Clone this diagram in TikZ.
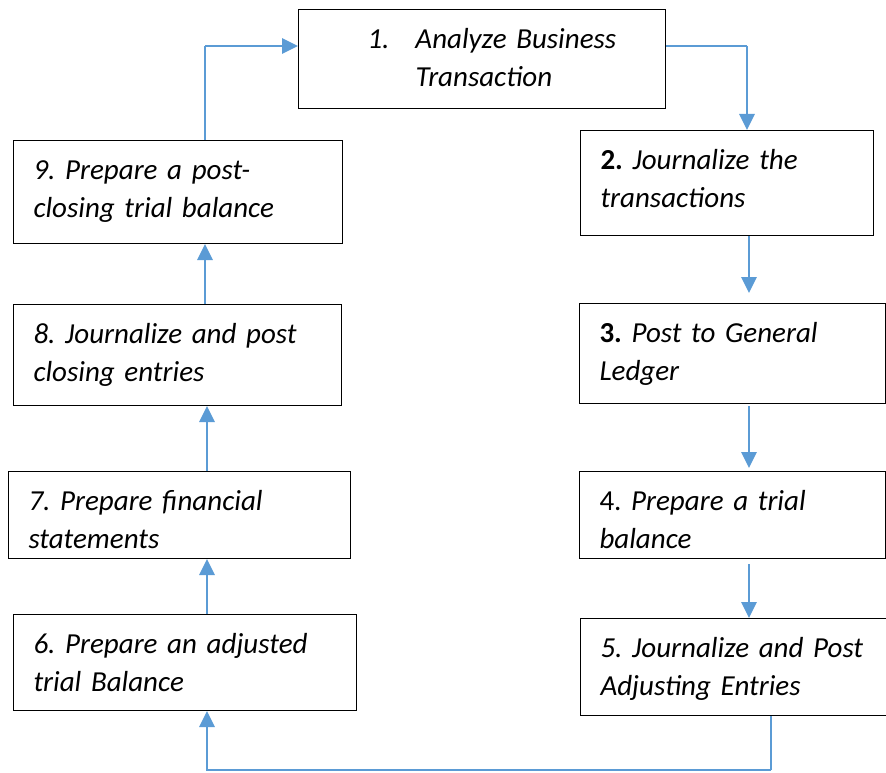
\documentclass[tikz,border=0pt]{standalone}
\usepackage{fontspec}
\setmainfont{Carlito}
\usepackage{tikz}
\usetikzlibrary{arrows.meta, positioning, calc}
\usepackage{xcolor}
\definecolor{linkblue}{HTML}{5B9BD5}
\frenchspacing

\begin{document}
\begin{tikzpicture}[
  x=1pt, y=-1pt,
  stage/.style={draw, line width=1pt, anchor=north west, align=left,
                inner xsep=20pt, inner ysep=0pt, text height=39pt,
                font=\fontsize{29}{38}\selectfont\itshape},
  link/.style={draw=linkblue, line width=2.8pt,
               -{Triangle[width=15pt,length=16pt]}},
  thinlink/.style={draw=linkblue, line width=1.3pt}
]
  \useasboundingbox (0,0) rectangle (886,773);

  % right column
  \node[stage, text width=327pt, text depth=60pt] (s1) at (298,9)
    {\hspace*{49pt}\makebox[48pt][l]{1.}Analyze Business\\
     \hspace*{97pt}Transaction};
  \node[stage, text width=253pt, text depth=66pt] (s2) at (580,130)
    {\textbf{\upshape 2.} Journalize the\\transactions};
  \node[stage, text width=266pt, text depth=61pt] (s3) at (579,303)
    {\textbf{\upshape 3.} Post to General\\Ledger};
  \node[stage, text width=266pt, text depth=48pt] (s4) at (579,471)
    {{\upshape 4.} Prepare a trial\\balance};
  \node[stage, text width=267pt, text depth=58pt] (s5) at (580,618)
    {5. Journalize and Post\\Adjusting Entries};

  % left column
  \node[stage, text width=289pt, text depth=64pt] (s9) at (13,140)
    {9. Prepare a post-\\closing trial balance};
  \node[stage, text width=288pt, text depth=62pt] (s8) at (13,304)
    {8. Journalize and post\\closing entries};
  \node[stage, text width=302pt, text depth=48pt] (s7) at (8,471)
    {7. Prepare financial\\statements};
  \node[stage, text width=303pt, text depth=57pt] (s6) at (13,614)
    {6. Prepare an adjusted\\trial Balance};

  \coordinate (rcol) at (749,0);
  \coordinate (lcol) at (207,0);
  \coordinate (t12) at (747,46);
  \coordinate (t91) at (205,46);
  \coordinate (b56) at (771,770);

  \draw[thinlink] (s1.east |- t12) -- (t12);
  \draw[link] (t12) -- (s2.north -| t12);
  \draw[link, shorten >=10pt] (s2.south -| rcol) -- (s3.north -| rcol);
  \draw[link, shorten <=2pt, shorten >=3pt] (s3.south -| rcol) -- (s4.north -| rcol);
  \draw[link, shorten <=5pt] (s4.south -| rcol) -- (s5.north -| rcol);

  \draw[thinlink] (s5.south -| b56) -- (b56);
  \draw[link] (b56) -| (s6.south -| lcol);

  \draw[link] (s6.north -| lcol) -- (s7.south -| lcol);
  \draw[link] (s7.north -| lcol) -- (s8.south -| lcol);
  \draw[link] (s8.north -| t91) -- (s9.south -| t91);

  \draw[thinlink] (s9.north -| t91) -- (t91);
  \draw[link] (t91) -- (s1.west |- t91);
\end{tikzpicture}
\end{document}
